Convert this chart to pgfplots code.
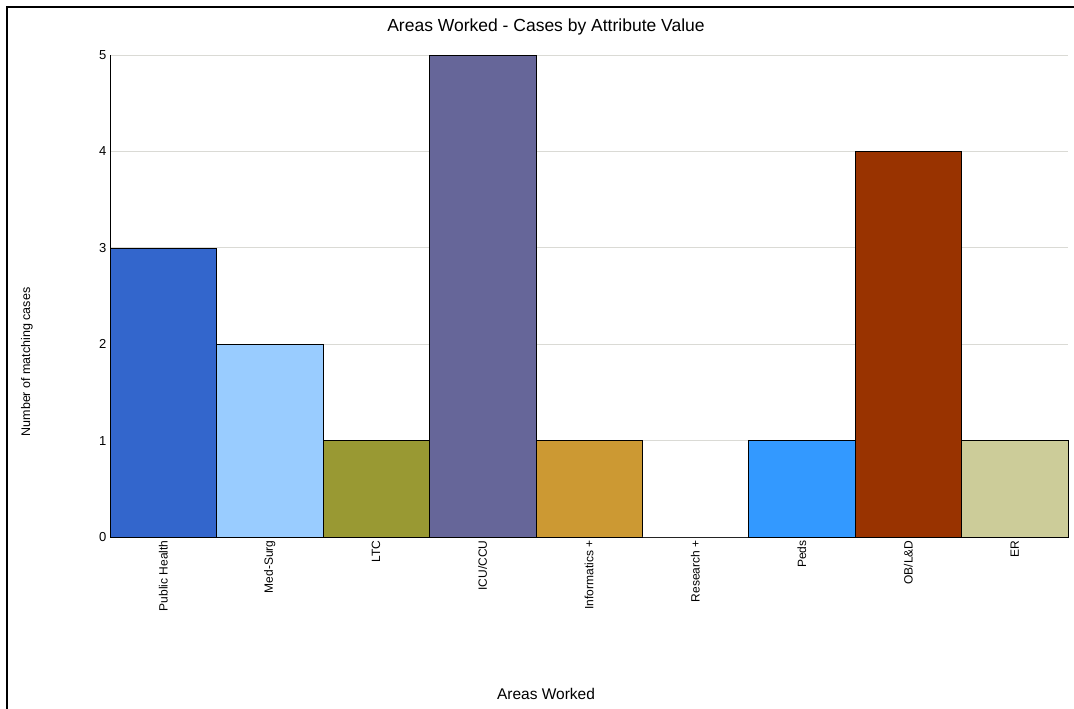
\documentclass[border=0pt]{standalone}
\usepackage{pgfplots}
\pgfplotsset{compat=1.18}
\usepackage{fontspec}
\setmainfont{Liberation Sans}
\definecolor{c1}{HTML}{3366CC}
\definecolor{c2}{HTML}{99CCFF}
\definecolor{c3}{HTML}{999933}
\definecolor{c4}{HTML}{666699}
\definecolor{c5}{HTML}{CC9933}
\definecolor{c6}{HTML}{FFFFFF}
\definecolor{c7}{HTML}{3399FF}
\definecolor{c8}{HTML}{993300}
\definecolor{c9}{HTML}{CCCC99}
\definecolor{gridc}{HTML}{DADAD5}
\begin{document}
\begin{tikzpicture}[x=1pt,y=1pt]
\path[use as bounding box] (0,0) rectangle (1074,709);
\draw[line width=1.6pt] (7,0) -- (7,702) -- (1074,702);
\begin{axis}[
  at={(110pt,172pt)}, anchor=south west,
  width=958pt, height=482pt, scale only axis,
  xmin=0, xmax=9, ymin=0, ymax=5,
  ybar, bar width=1, bar shift=0pt,
  axis x line*=bottom, axis y line*=left,
  x axis line style={draw=black!60, -}, y axis line style={draw=black, -},
  xtick={0.5,1.5,2.5,3.5,4.5,5.5,6.5,7.5,8.5},
  xticklabels={Public Health,Med-Surg,LTC,ICU/CCU,Informatics +,Research +,Peds,OB/L\&D,ER},
  x tick label style={rotate=90, anchor=east, font=\fontsize{12}{14}\selectfont},
  ytick={0,1,2,3,4,5},
  y tick label style={font=\fontsize{13}{15}\selectfont},
  /pgf/number format/assume math mode=true,
  major tick length=0pt,
  ymajorgrids, grid style={draw=gridc, line width=0.8pt},
  clip=false,
]
\addplot[fill=c1, draw=black] coordinates {(0.5,3)};
\addplot[fill=c2, draw=black] coordinates {(1.5,2)};
\addplot[fill=c3, draw=black] coordinates {(2.5,1)};
\addplot[fill=c4, draw=black] coordinates {(3.5,5)};
\addplot[fill=c5, draw=black] coordinates {(4.5,1)};
\addplot[fill=c6, draw=black] coordinates {(5.5,0)};
\addplot[fill=c7, draw=black] coordinates {(6.5,1)};
\addplot[fill=c8, draw=black] coordinates {(7.5,4)};
\addplot[fill=c9, draw=black] coordinates {(8.5,1)};
\end{axis}
\node[font=\fontsize{17.5}{20}\selectfont] at (546,682) {Areas Worked - Cases by Attribute Value};
\node[font=\fontsize{15.5}{18}\selectfont] at (546,15) {Areas Worked};
\node[font=\fontsize{12.5}{15}\selectfont, rotate=90] at (27,347) {Number of matching cases};
\end{tikzpicture}
\end{document}
